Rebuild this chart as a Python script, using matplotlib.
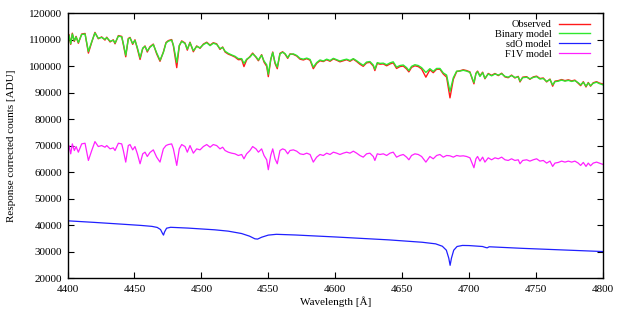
import matplotlib
matplotlib.use("Agg")
import matplotlib.pyplot as plt

# wavelength grid of the F1V / binary / observed spectra [A]
wl = [4400, 4401.1, 4402.4, 4403.6, 4405.1, 4406.4, 4408.1, 4410.6, 4413.1, 4415.6,
      4418.1, 4420.5, 4423.0, 4425.5, 4428.0, 4429.3, 4431.8, 4434.2, 4435.5, 4438.0,
      4440.5, 4441.7, 4443.5, 4445.4, 4446.7, 4448.7, 4450.4, 4452.2, 4454.2, 4456.2,
      4457.9, 4459.6, 4461.6, 4464.1, 4466.6, 4469.1, 4471.6, 4473.6, 4475.3, 4477.8,
      4479.1, 4481.6, 4483.5, 4485.3, 4487.8, 4489.5, 4491.5, 4494.0, 4496.5, 4499.0,
      4501.5, 4504.0, 4506.5, 4508.9, 4511.4, 4513.9, 4515.9, 4517.7, 4520.1, 4522.6,
      4525.1, 4527.6, 4530.1, 4531.8, 4533.8, 4536.3, 4538.3, 4540.8, 4542.6, 4545.0,
      4546.8, 4548.8, 4550.0, 4551.8, 4553.3, 4555.0, 4556.7, 4558.7, 4560.7, 4562.5,
      4564.5, 4566.2, 4568.7, 4571.2, 4573.7, 4576.2, 4578.7, 4581.2, 4583.6, 4586.1,
      4588.6, 4591.1, 4593.6, 4596.1, 4598.6, 4601.1, 4603.5, 4606.0, 4608.5, 4611.0,
      4613.5, 4616.0, 4618.4, 4620.9, 4623.4, 4625.9, 4628.4, 4629.6, 4631.4, 4633.4,
      4635.9, 4638.4, 4640.9, 4643.3, 4645.8, 4648.3, 4650.8, 4653.3, 4655.0, 4657.0,
      4659.5, 4662.0, 4664.5, 4667.7, 4670.7, 4673.2, 4675.7, 4678.2, 4680.7, 4683.2,
      4685.7, 4688.2, 4690.7, 4693.1, 4695.6, 4698.1, 4700.6, 4702.4, 4703.6, 4705.1,
      4706.3, 4708.1, 4710.1, 4711.8, 4714.3, 4716.8, 4719.3, 4721.8, 4724.3, 4726.8,
      4729.2, 4731.7, 4734.2, 4736.7, 4738.0, 4740.0, 4743.0, 4745.4, 4747.9, 4750.4,
      4752.9, 4755.4, 4757.9, 4760.4, 4762.4, 4764.1, 4766.6, 4769.1, 4771.6, 4774.1,
      4776.6, 4779.0, 4781.5, 4783.3, 4785.3, 4787.3, 4789.0, 4790.7, 4792.7, 4795.2,
      4797.2, 4800]

f1v = [66250, 70000, 66875, 70625, 68125, 69625, 67500, 70625, 70875, 64375,
       68125, 71500, 69625, 70000, 69375, 70000, 68750, 69125, 68125, 70875,
       70625, 68125, 63750, 70000, 70375, 68375, 69625, 66875, 63125, 66875,
       67500, 65875, 67375, 68375, 65625, 63750, 68750, 70000, 70375, 70625,
       68750, 62500, 68750, 70375, 69625, 67500, 70000, 67125, 68750, 68375,
       69625, 70375, 69375, 70375, 70000, 68750, 69375, 68125, 67500, 67125,
       66875, 66250, 66625, 65000, 66875, 68125, 69625, 68750, 67500, 68750,
       66250, 64625, 60875, 66250, 68750, 65000, 63125, 68125, 68750, 68375,
       66875, 68125, 68375, 67875, 66875, 66625, 67125, 66625, 63750, 65625,
       66625, 66250, 67125, 66625, 67500, 67125, 66625, 67125, 67500, 67125,
       67875, 67125, 66250, 65625, 66875, 67125, 65875, 64375, 66875, 66625,
       66875, 66250, 67125, 67500, 65625, 66250, 66625, 65625, 64625, 66250,
       66875, 66625, 65875, 63750, 65875, 65000, 66250, 66625, 65625, 66250,
       66125, 65625, 66250, 66000, 66125, 65875, 65375, 63125, 61625, 65000,
       65875, 64125, 65625, 63750, 65375, 64625, 65375, 65000, 65625, 64625,
       64375, 65000, 64375, 64625, 63125, 64375, 64625, 64125, 64625, 65000,
       64125, 64375, 63375, 64125, 62125, 63375, 63625, 64125, 63750, 64125,
       63750, 64125, 63375, 62500, 63625, 62125, 63375, 62375, 63375, 63750,
       63375, 62875]

binary = [107900, 111600, 108400, 112100, 109600, 111000, 108900, 111900, 112100, 105500,
          109200, 112500, 110500, 110800, 110100, 110700, 109400, 109700, 108700, 111300,
          111000, 108500, 104100, 110200, 110600, 108500, 109700, 106900, 103100, 106800,
          107400, 105700, 107100, 108100, 105000, 102200, 105100, 108700, 109400, 109800,
          107900, 101300, 107800, 109300, 108500, 106400, 108800, 105800, 107400, 106900,
          108100, 108800, 107700, 108600, 108200, 106600, 107000, 105600, 104800, 104200,
          103700, 102800, 102800, 101000, 102600, 103400, 104600, 103500, 102300, 104100,
          101900, 100500, 96900, 102500, 105100, 101400, 99600, 104600, 105200, 104700,
          103200, 104400, 104600, 104000, 102900, 102600, 103000, 102500, 99600, 101300,
          102300, 101900, 102600, 102100, 102900, 102400, 101900, 102300, 102600, 102100,
          102800, 102000, 101100, 100300, 101500, 101700, 100400, 98800, 101300, 101000,
          101100, 100500, 101200, 101600, 99600, 100200, 100400, 99400, 98300, 99900,
          100500, 100200, 99400, 97600, 99000, 98000, 99100, 99100, 97400, 96600,
          90400, 95600, 98100, 98100, 98400, 98100, 97600, 95300, 93800, 97100,
          97900, 96100, 97500, 95400, 97000, 96300, 97000, 96600, 97100, 96100,
          95800, 96400, 95700, 95900, 94300, 95600, 95800, 95200, 95700, 96000,
          95100, 95300, 94200, 94900, 92900, 94100, 94300, 94700, 94300, 94600,
          94200, 94500, 93700, 92900, 93900, 92400, 93600, 92600, 93500, 93900,
          93400, 92900]

observed = [107600, 111900, 108200, 112400, 109300, 111200, 108600, 112100, 112300, 104900,
            109000, 112700, 110300, 111000, 109800, 110900, 109100, 109900, 108400, 111500,
            111200, 108200, 103500, 110400, 110800, 108200, 109900, 106500, 102500, 106600,
            107600, 105300, 107300, 108300, 104600, 101800, 105300, 108900, 109600, 110000,
            107600, 99400, 107600, 109500, 108700, 106000, 109000, 105400, 107600, 106700,
            108300, 109000, 107900, 108800, 108400, 106300, 107200, 105300, 104500, 104000,
            103400, 102400, 102500, 99800, 102300, 103600, 104900, 103300, 102000, 104300,
            101500, 99900, 96000, 102300, 105300, 101000, 99000, 104800, 105400, 104500,
            102900, 104600, 104400, 103800, 102600, 102300, 102800, 102200, 99000, 101000,
            102000, 101700, 102400, 101800, 102700, 102200, 101600, 102000, 102400, 101800,
            102600, 101700, 100700, 99900, 101200, 101400, 100000, 98300, 101000, 100700,
            100800, 100100, 100800, 101200, 99100, 99800, 100000, 98900, 97800, 99500,
            100100, 99800, 98900, 95800, 98600, 97500, 98800, 98800, 97000, 95800,
            88000, 95000, 97900, 98200, 98600, 98300, 97800, 95000, 93300, 97300,
            98100, 96300, 97700, 95200, 97200, 96500, 97200, 96400, 97300, 95900,
            95600, 96600, 95500, 96100, 94000, 95800, 96000, 95000, 95900, 96200,
            95300, 95500, 94000, 95100, 92400, 94300, 94500, 94900, 94500, 94800,
            94400, 94700, 93500, 92600, 94100, 92100, 93800, 92400, 93700, 94100,
            93600, 93200]

# sdO model: smooth continuum with He lines
sdo_wl = [4400, 4420, 4440, 4455, 4463, 4467, 4469.5, 4471.0, 4471.7, 4472.5,
          4474, 4477, 4490, 4510, 4520, 4530, 4536, 4540, 4542, 4545,
          4550, 4556, 4570, 4600, 4640, 4665, 4675, 4680, 4683, 4684.8,
          4685.8, 4686.8, 4688.5, 4691, 4695, 4700, 4710, 4712.5, 4713.5, 4715,
          4740, 4770, 4800]
sdo = [41600, 41000, 40350, 39850, 39500, 39100, 38300, 36800, 36200, 37400,
       38800, 39150, 38850, 38200, 37700, 36800, 35800, 34800, 34700, 35400,
       36200, 36500, 36250, 35500, 34400, 33500, 32900, 32000, 30500, 27500,
       24800, 27500, 30500, 31900, 32300, 32250, 31900, 31500, 31400, 31800,
       31200, 30600, 30000]

plt.rcParams['font.family'] = ['Liberation Serif', 'DejaVu Serif']
plt.rcParams['font.size'] = 8

fig = plt.figure(figsize=(6.21, 3.11), dpi=100)
ax = fig.add_axes([0.1087, 0.106, 0.8623, 0.852])

ax.plot(wl, observed, color='#ff1a1a', lw=1.0, label='Observed')
ax.plot(wl, binary, color='#2ee82e', lw=1.0, label='Binary model')
ax.plot(sdo_wl, sdo, color='#2020ff', lw=0.9, label='sdO model')
ax.plot(wl, f1v, color='#ff20ff', lw=0.9, label='F1V model')

ax.set_xlim(4400, 4800)
ax.set_ylim(20000, 120000)
ax.set_xticks(range(4400, 4801, 50))
ax.set_yticks(range(20000, 120001, 10000))
ax.tick_params(direction='in', length=4, width=0.8, top=True, right=True)
ax.tick_params(axis='x', pad=5)
ax.tick_params(axis='y', pad=4)
for s in ax.spines.values():
    s.set_linewidth(1.0)

ax.set_xlabel('Wavelength [Å]', labelpad=2)
ax.set_ylabel('Response corrected counts [ADU]', labelpad=9)

ax.legend(loc='upper right', bbox_to_anchor=(0.9757, 0.974), frameon=False,
          markerfirst=False, handlelength=3.0, labelspacing=0.05, borderpad=0.0,
          borderaxespad=0.0, handletextpad=0.7, fontsize=7.5)

fig.savefig('out.png', dpi=100)
